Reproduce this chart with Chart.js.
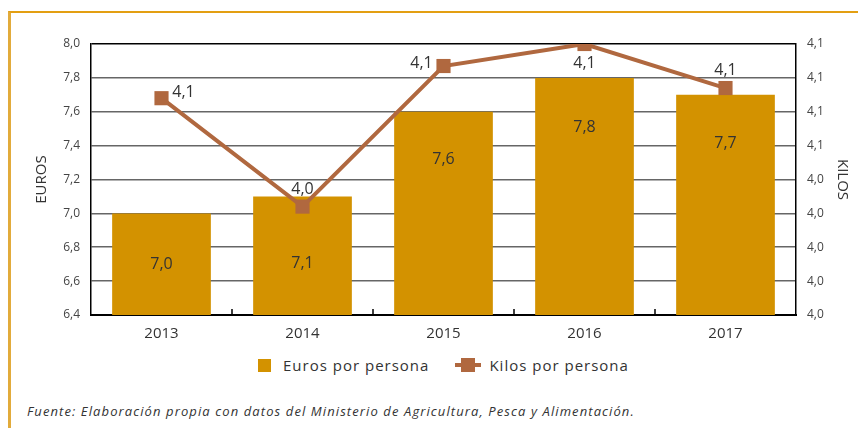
<!DOCTYPE html>
<html>
<head>
<meta charset="utf-8">
<script src="https://cdn.jsdelivr.net/npm/chart.js@4.4.1/dist/chart.umd.min.js"></script>
<style>
  html, body { margin:0; padding:0; background:#fff; }
  body { width:858px; height:430px; position:relative; overflow:hidden; font-family:'Open Sans', sans-serif; color:#333; }
  .frame { position:absolute; left:8px; top:11px; width:850px; height:417px; border-top:2px solid #e39f12; border-left:3px solid #e2ab3b; box-sizing:border-box; }
  .chart-box { position:absolute; left:0; top:0; width:858px; height:350px; }
  .legend { position:absolute; left:258px; top:355px; display:flex; align-items:center; font-size:15px; letter-spacing:1px; color:#333; }
  .legend .item { display:flex; align-items:center; }
  .sw-bar { width:13px; height:13px; background:#d39200; margin-right:12px; }
  .sw-line { position:relative; width:26px; height:14px; margin-left:26px; margin-right:8px; }
  .sw-line::before { content:''; position:absolute; left:0; right:0; top:5px; height:4px; background:#b0683f; }
  .sw-line::after { content:''; position:absolute; left:6px; top:0; width:14px; height:14px; background:#b0683f; }
  .source { position:absolute; left:27px; top:402px; font-size:13px; letter-spacing:1.1px; font-style:italic; color:#333; }
</style>
</head>
<body>
<div class="frame"></div>
<div class="chart-box"><canvas id="chart"></canvas></div>
<div class="legend">
  <div class="item"><span class="sw-bar"></span>Euros por persona</div>
  <div class="item"><span class="sw-line"></span>Kilos por persona</div>
</div>
<div class="source">Fuente: Elaboración propia con datos del Ministerio de Agricultura, Pesca y Alimentación.</div>
<script>
// data
const years = ['2013', '2014', '2015', '2016', '2017'];
const eurosPorPersona = [7.0, 7.1, 7.6, 7.8, 7.7];
const kilosPorPersona = [4.088, 4.024, 4.107, 4.12, 4.094];

const BAR = '#d39200';
const LINE = '#b0683f';
const FONT = "'Open Sans', sans-serif";

const comma = v => Number(v).toFixed(1).replace('.', ',');

// value labels (bars inside, line points around the marker)
const valueLabels = {
  id: 'valueLabels',
  afterDatasetsDraw(chart, args, opts) {
    const ctx = chart.ctx;
    ctx.save();
    ctx.font = '16px ' + FONT;
    ctx.fillStyle = '#333';
    ctx.textAlign = 'center';
    ctx.textBaseline = 'middle';
    chart.getDatasetMeta(0).data.forEach((el, i) => {
      ctx.fillText(comma(eurosPorPersona[i]), el.x, el.y + opts.barDy[i]);
    });
    chart.getDatasetMeta(1).data.forEach((el, i) => {
      const [dx, dy] = opts.lineOffsets[i];
      ctx.fillText(comma(kilosPorPersona[i]), el.x + dx, el.y + dy);
    });
    ctx.restore();
  }
};

// small tick marks between categories, pointing up from the axis
const innerTicks = {
  id: 'innerTicks',
  afterDatasetsDraw(chart) {
    const x = chart.scales.x, a = chart.chartArea, ctx = chart.ctx;
    const step = (a.right - a.left) / years.length;
    ctx.save();
    ctx.strokeStyle = '#000';
    ctx.lineWidth = 1.5;
    for (let i = 1; i < years.length; i++) {
      const px = x.getPixelForValue(i) - step / 2;
      ctx.beginPath();
      ctx.moveTo(px, a.bottom);
      ctx.lineTo(px, a.bottom - 6);
      ctx.stroke();
    }
    ctx.restore();
  }
};

new Chart(document.getElementById('chart'), {
  data: {
    labels: years,
    datasets: [
      { type:'bar', label:'Euros por persona', data:eurosPorPersona, yAxisID:'y',
        backgroundColor:BAR, barPercentage:0.7, categoryPercentage:1.0, order:2 },
      { type:'line', label:'Kilos por persona', data:kilosPorPersona, yAxisID:'y1',
        borderColor:LINE, borderWidth:4, tension:0,
        pointStyle:'rect', pointRadius:10, pointHoverRadius:10,
        pointBackgroundColor:LINE, pointBorderColor:LINE, pointBorderWidth:0, order:1 }
    ]
  },
  options: {
    responsive:true, maintainAspectRatio:false, animation:false,
    layout:{ padding:{ top:44, bottom:0, left:0, right:0 } },
    plugins:{
      legend:{ display:false }, tooltip:{ enabled:false },
      valueLabels:{
        barDy:[51, 67, 48, 50, 49],
        lineOffsets:[[22,-6],[0,-17],[-22,-3],[0,19],[0,-18]]
      }
    },
    scales:{
      x:{
        grid:{ display:false, drawTicks:false },
        border:{ color:'#000', width:2 },
        ticks:{ color:'#333', padding:10, font:{ family:FONT, size:15 } },
        afterFit(s) { s.height = 35; }
      },
      y:{
        position:'left', min:6.4, max:8.0,
        ticks:{ count:9, color:'#444', padding:11, font:{ family:FONT, size:12 }, callback:v => comma(v) },
        grid:{ drawTicks:false, lineWidth:1.5, color:c => (c.tick && c.tick.value >= 7.99) ? '#000' : '#666' },
        border:{ color:'#000', width:1.5 },
        title:{ display:true, text:'EUROS', color:'#333', font:{ family:FONT, size:15 }, padding:{ top:33, bottom:0 } },
        afterFit(s) { s.width = 91; }
      },
      y1:{
        position:'right', min:3.96, max:4.12,
        ticks:{ count:9, color:'#444', padding:11, font:{ family:FONT, size:12 }, callback:v => comma(v) },
        grid:{ drawOnChartArea:false, drawTicks:false },
        border:{ color:'#000', width:1.5 },
        title:{ display:true, text:'KILOS', color:'#333', font:{ family:FONT, size:15 }, padding:{ top:7, bottom:0 } },
        afterFit(s) { s.width = 62; }
      }
    }
  },
  plugins:[valueLabels, innerTicks]
});
</script>
</body>
</html>
